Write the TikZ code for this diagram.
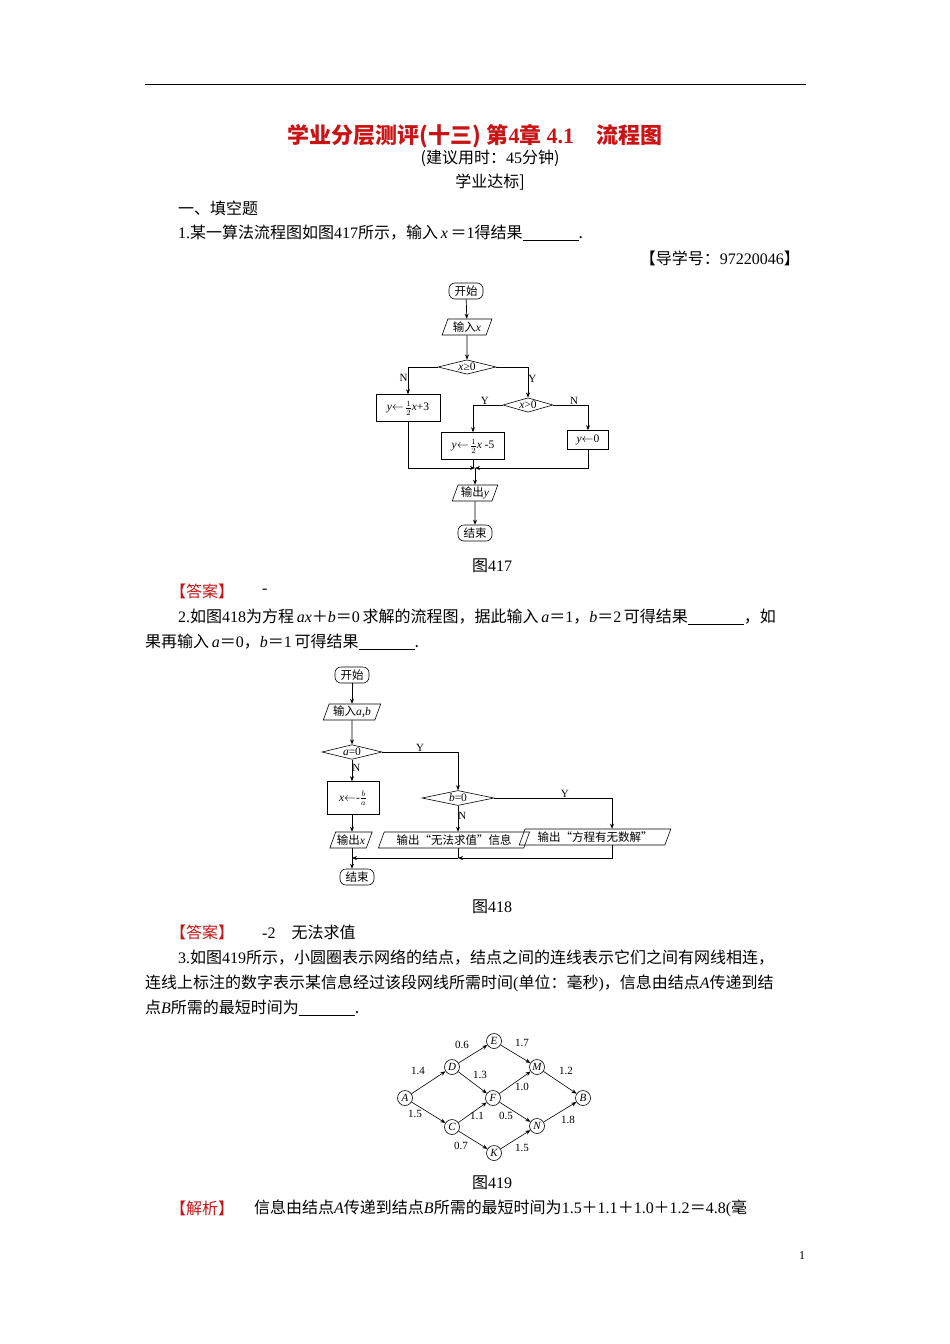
\documentclass[tikz,border=0pt]{standalone}
\usepackage{fontspec}
\setmainfont{Liberation Serif}
\newfontfamily\cjk{Noto Sans CJK SC}
\newcommand{\V}[1]{{\rmfamily\itshape #1}}
\newcommand{\R}[1]{{\rmfamily #1}}
\usetikzlibrary{shapes.geometric,arrows.meta}
\begin{document}
\begin{tikzpicture}[x=1pt,y=-1pt,
  txt/.style={inner sep=0pt,font=\fontsize{16}{18}\selectfont\cjk},
  red/.style={text={rgb,255:red,200;green,20;blue,20}},
  fc/.style={inner sep=1pt,font=\fontsize{11.5}{13}\selectfont\cjk},
  arr/.style={-{Stealth[length=5pt,width=4pt]},line width=0.7pt},
  ln/.style={line width=0.7pt},
  term/.style={fc,draw,rounded corners=6pt,minimum width=34pt,minimum height=16pt,line width=0.6pt},
  io/.style={fc,draw,trapezium,trapezium left angle=70,trapezium right angle=110,minimum height=16pt,line width=0.6pt},
  box/.style={fc,draw,line width=0.6pt},
  dec/.style={fc,draw,diamond,aspect=2.6,inner sep=0pt,line width=0.6pt},
  gn/.style={draw,circle,minimum size=15pt,inner sep=0pt,font=\fontsize{11}{12}\selectfont\itshape,line width=0.6pt},
  gl/.style={inner sep=0pt,font=\fontsize{11}{12}\selectfont\rmfamily}]
\useasboundingbox (0,0) rectangle (950,1344);
\fill[white] (0,0) rectangle (950,1344);
\draw[line width=0.8pt] (145,84) -- (806,84);
\node[txt,red,font=\fontsize{22}{24}\selectfont\cjk\bfseries] (title) at (475,136) {学业分层测评(十三)\ 第\R{4}章\ \R{4.1}\quad 流程图};
\node[txt] (t1) at (490,158) {(建议用时：\R{45}分钟)};
\node[txt] (t2) at (490,182) {学业达标]};
\node[txt,anchor=west] (t3) at (178,208) {一、填空题};
\node[txt,anchor=west] (q1) at (178,233) {\R{1.}某一算法流程图如图\R{417}所示，输入\,\V{x}\,＝\R{1}得结果\underline{\hspace{56pt}}.};
\node[txt,anchor=east] (dx) at (800,258) {【导学号：\R{97220046}】};
% flowchart 1
\node[term] (s1) at (466,291) {开始};
\node[io] (i1) at (467,327) {输入\V{x}};
\node[dec,minimum width=58pt] (d1) at (467,367) {\V{x}\R{≥}\R{0}};
\node[box,minimum width=64pt,minimum height=27pt] (b1) at (408,408) {\V{y}$\leftarrow\!\frac{1}{2}$\V{x}\R{+3}};
\node[dec,minimum width=50pt] (d2) at (528,405) {\V{x}\R{>0}};
\node[box,minimum width=63pt,minimum height=27pt] (b2) at (473,446) {\V{y}$\leftarrow\!\frac{1}{2}$\V{x}\R{ -5}};
\node[box,minimum width=41pt,minimum height=19pt] (b3) at (588,440) {\V{y}$\leftarrow$\R{0}};
\node[io] (o1) at (475,493) {输出\V{y}};
\node[term] (e1) at (475,533) {结束};
\coordinate (m1) at (475,468);
\draw[arr] (s1) -- (i1);
\draw[arr] (i1) -- (d1);
\draw[arr] (d1.west) -| node[pos=0.7,left,gl]{N} (b1.north);
\draw[arr] (d1.east) -| node[pos=0.7,right,gl]{Y} (d2.north);
\draw[arr] (d2.west) -| node[pos=0.3,above,gl]{Y} (b2.north);
\draw[arr] (d2.east) -| node[pos=0.3,above,gl]{N} (b3.north);
\draw[arr] (b1.south) |- (m1);
\draw[arr] (b3.south) |- (m1);
\draw[ln] (b2.south) -- (b2.south|-m1);
\draw[arr] (m1) -- (o1);
\draw[arr] (o1) -- (e1);
\node[txt] (c1) at (492,566) {图\R{417}};
\node[txt,red,anchor=west] (a1) at (170,591) {【答案】};
\node[txt,anchor=west] (a1b) at (262,591) {\R{-}};
\node[txt,anchor=west] (q2a) at (178,617) {\R{2.}如图\R{418}为方程\,\V{ax}＋\V{b}＝\R{0}\,求解的流程图，据此输入\,\V{a}＝\R{1}，\V{b}＝\R{2}\,可得结果\underline{\hspace{56pt}}，如};
\node[txt,anchor=west] (q2b) at (145,642) {果再输入\,\V{a}＝\R{0}，\V{b}＝\R{1}\,可得结果\underline{\hspace{56pt}}.};
% flowchart 2
\node[term] (s2) at (352,675) {开始};
\node[io] (i2) at (352,712) {输入\V{a},\V{b}};
\node[dec,minimum width=60pt] (d3) at (352,752) {\V{a}\R{=0}};
\node[box,minimum width=52pt,minimum height=33pt] (b4) at (353,798) {\V{x}$\leftarrow$\R{-}$\frac{b}{a}$};
\node[dec,minimum width=72pt] (d4) at (458,798) {\V{b}\R{=0}};
\node[io,inner xsep=-2pt] (o2) at (351,840) {输出\V{x}};
\node[io,inner xsep=-2pt] (o3) at (454,840) {输出“无法求值”信息};
\node[io,inner xsep=-2pt] (o4) at (595,837) {输出“方程有无数解”};
\node[term] (e2) at (357,877) {结束};
\coordinate (m2) at (458,858);
\coordinate (m3) at (352,858);
\draw[arr] (s2) -- (i2);
\draw[arr] (i2) -- (d3);
\draw[arr] (d3.east) -| node[pos=0.25,above,gl]{Y} (d4.north);
\draw[arr] (d3.south) -- node[pos=0.4,right,gl]{N} (b4.north-|d3.south);
\draw[arr] (b4.south-|d3.south) -- (o2.north-|d3.south);
\draw[arr] (d4.south) -- node[pos=0.4,right,gl]{N} (d4.south|-o3.north);
\draw[arr] (d4.east) -| node[pos=0.3,above,gl]{Y} (o4.north-|612,0);
\draw[arr] (o4.south-|612,0) |- (m2);
\draw[arr] (m2) -- (m3);
\draw[ln] (d4.south|-o3.south) -- (m2);
\draw[arr] (o2.south-|d3.south) -- (e2.north-|d3.south);
\node[txt] (c2) at (492,907) {图\R{418}};
\node[txt,red,anchor=west] (a2) at (170,932) {【答案】};
\node[txt,anchor=west] (a2b) at (262,932) {\R{-2}\quad 无法求值};
\node[txt,anchor=west] (q3a) at (178,958) {\R{3.}如图\R{419}所示，小圆圈表示网络的结点，结点之间的连线表示它们之间有网线相连，};
\node[txt,anchor=west] (q3b) at (145,983) {连线上标注的数字表示某信息经过该段网线所需时间\R{(}单位：毫秒\R{)}，信息由结点\V{A}传递到结};
\node[txt,anchor=west] (q3c) at (145,1008) {点\V{B}所需的最短时间为\underline{\hspace{56pt}}.};
% graph
\node[gn] (A) at (405,1098) {A};
\node[gn] (D) at (452,1067) {D};
\node[gn] (E) at (494,1041) {E};
\node[gn] (M) at (537,1067) {M};
\node[gn] (B) at (583,1098) {B};
\node[gn] (F) at (493,1098) {F};
\node[gn] (C) at (452,1127) {C};
\node[gn] (N) at (537,1126) {N};
\node[gn] (K) at (494,1153) {K};
\foreach \a/\b in {A/D,A/C,D/E,D/F,C/F,C/K,E/M,F/M,F/N,K/N,M/B,N/B}
  \draw[arr,line width=0.6pt] (\a) -- (\b);
\node[gl] (l1) at (462,1045) {0.6};
\node[gl] (l2) at (522,1043) {1.7};
\node[gl] (l3) at (418,1071) {1.4};
\node[gl] (l4) at (480,1075) {1.3};
\node[gl] (l5) at (566,1071) {1.2};
\node[gl] (l6) at (522,1087) {1.0};
\node[gl] (l7) at (415,1114) {1.5};
\node[gl] (l8) at (477,1116) {1.1};
\node[gl] (l9) at (506,1116) {0.5};
\node[gl] (l10) at (568,1120) {1.8};
\node[gl] (l11) at (461,1146) {0.7};
\node[gl] (l12) at (522,1148) {1.5};
\node[txt] (c3) at (492,1183) {图\R{419}};
\node[txt,red,anchor=west] (a3) at (170,1208) {【解析】};
\node[txt,anchor=west] (a3b) at (254,1208) {信息由结点\V{A}传递到结点\V{B}所需的最短时间为\R{1.5}＋\R{1.1}＋\R{1.0}＋\R{1.2}＝\R{4.8(}毫};
\node[inner sep=0pt,font=\fontsize{12}{14}\selectfont] (pg) at (802,1256) {1};
\end{tikzpicture}
\end{document}
